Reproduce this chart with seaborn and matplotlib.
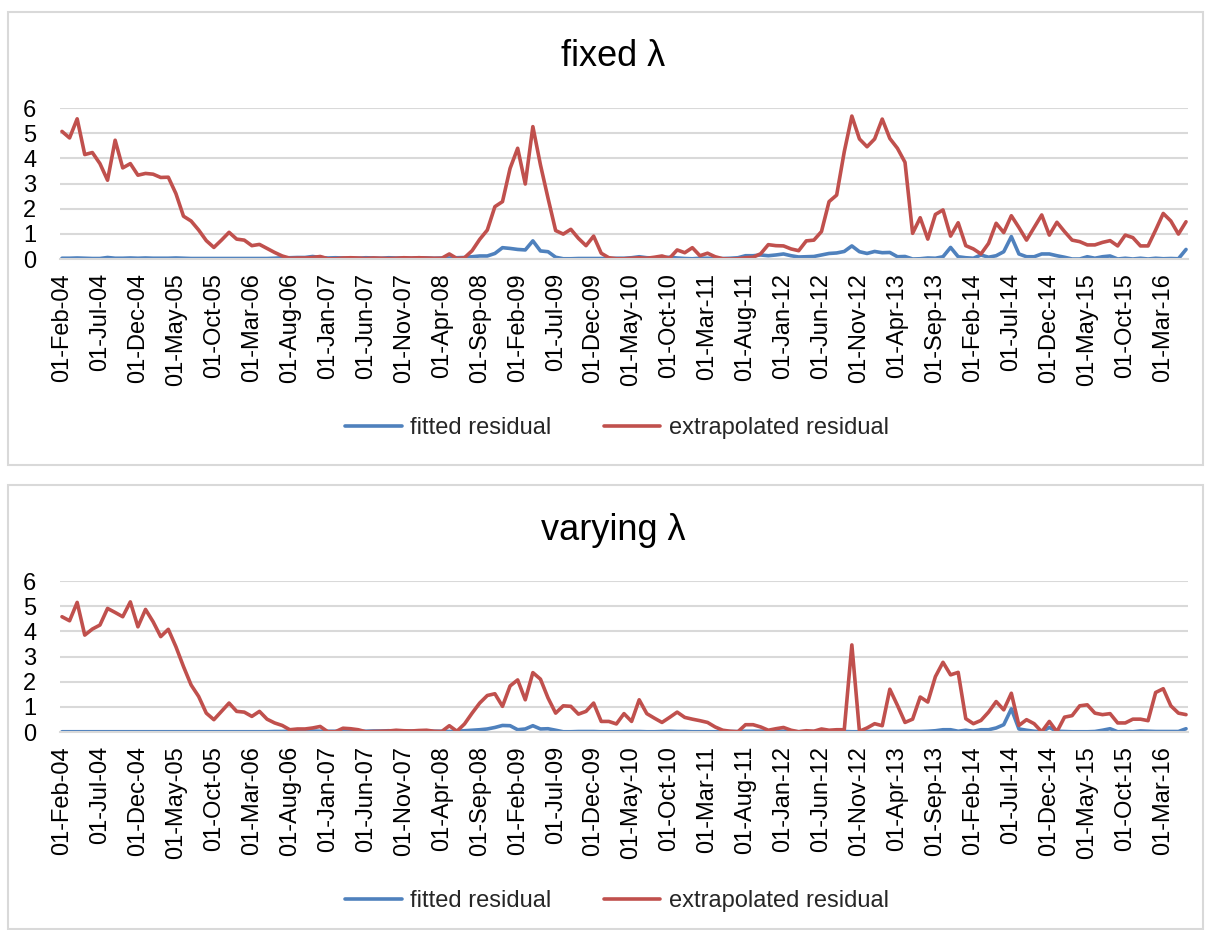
import numpy as np
import pandas as pd
import matplotlib
matplotlib.use("Agg")
import matplotlib.pyplot as plt
import seaborn as sns
from matplotlib.patches import Rectangle
from matplotlib.lines import Line2D

# Monthly observations, Feb-2004 .. Jun-2016
months = pd.date_range("2004-02-01", periods=149, freq="MS")

tick_labels = [
    "01-Feb-04", "01-Jul-04", "01-Dec-04", "01-May-05", "01-Oct-05", "01-Mar-06",
    "01-Aug-06", "01-Jan-07", "01-Jun-07", "01-Nov-07", "01-Apr-08", "01-Sep-08",
    "01-Feb-09", "01-Jul-09", "01-Dec-09", "01-May-10", "01-Oct-10", "01-Mar-11",
    "01-Aug-11", "01-Jan-12", "01-Jun-12", "01-Nov-12", "01-Apr-13", "01-Sep-13",
    "01-Feb-14", "01-Jul-14", "01-Dec-14", "01-May-15", "01-Oct-15", "01-Mar-16",
]

series_names = ["fitted residual", "extrapolated residual"]

# fixed lambda
fixed_fitted = [
    0.03, 0.03, 0.04, 0.03, 0.02, 0.02, 0.06, 0.03, 0.03, 0.04,
    0.03, 0.04, 0.03, 0.03, 0.03, 0.04, 0.03, 0.02, 0.02, 0.02,
    0.02, 0.02, 0.02, 0.02, 0.02, 0.02, 0.02, 0.02, 0.03, 0.05,
    0.05, 0.06, 0.06, 0.10, 0.06, 0.04, 0.05, 0.04, 0.03, 0.03,
    0.05, 0.04, 0.03, 0.05, 0.04, 0.04, 0.03, 0.05, 0.04, 0.03,
    0.04, 0.04, 0.05, 0.06, 0.09, 0.12, 0.12, 0.22, 0.45, 0.42,
    0.38, 0.36, 0.72, 0.32, 0.29, 0.07, 0.01, 0.01, 0.02, 0.02,
    0.02, 0.02, 0.02, 0.03, 0.03, 0.05, 0.09, 0.05, 0.04, 0.05,
    0.07, 0.04, 0.02, 0.01, 0.03, 0.03, 0.02, 0.02, 0.03, 0.05,
    0.13, 0.13, 0.16, 0.13, 0.16, 0.20, 0.13, 0.08, 0.09, 0.10,
    0.16, 0.22, 0.24, 0.30, 0.52, 0.29, 0.22, 0.30, 0.25, 0.26,
    0.09, 0.10, 0.00, 0.01, 0.04, 0.03, 0.09, 0.46, 0.09, 0.05,
    0.03, 0.16, 0.07, 0.13, 0.29, 0.89, 0.20, 0.09, 0.09, 0.20,
    0.20, 0.13, 0.07, 0.00, 0.00, 0.09, 0.03, 0.09, 0.12, 0.00,
    0.03, 0.00, 0.03, 0.00, 0.03, 0.01, 0.02, 0.01, 0.38,
]
fixed_extrap = [
    5.07, 4.81, 5.57, 4.15, 4.23, 3.79, 3.13, 4.72, 3.62, 3.79,
    3.33, 3.40, 3.37, 3.24, 3.25, 2.60, 1.70, 1.51, 1.15, 0.73,
    0.46, 0.75, 1.06, 0.79, 0.75, 0.53, 0.58, 0.42, 0.26, 0.12,
    0.03, 0.04, 0.04, 0.06, 0.10, 0.01, 0.01, 0.04, 0.05, 0.04,
    0.02, 0.04, 0.03, 0.02, 0.03, 0.05, 0.04, 0.05, 0.04, 0.03,
    0.03, 0.20, 0.02, 0.05, 0.33, 0.78, 1.15, 2.08, 2.28, 3.60,
    4.40, 2.98, 5.26, 3.74, 2.41, 1.13, 0.99, 1.18, 0.82, 0.53,
    0.91, 0.23, 0.05, 0.01, 0.01, 0.03, 0.05, 0.03, 0.07, 0.12,
    0.03, 0.36, 0.25, 0.45, 0.13, 0.23, 0.09, 0.01, 0.00, 0.01,
    0.05, 0.07, 0.21, 0.57, 0.53, 0.52, 0.40, 0.33, 0.72, 0.75,
    1.09, 2.28, 2.54, 4.26, 5.68, 4.77, 4.46, 4.77, 5.56, 4.79,
    4.40, 3.84, 1.02, 1.64, 0.79, 1.77, 1.95, 0.91, 1.44, 0.53,
    0.40, 0.20, 0.62, 1.42, 1.05, 1.72, 1.25, 0.75, 1.25, 1.75,
    0.95, 1.46, 1.09, 0.75, 0.69, 0.56, 0.56, 0.66, 0.73, 0.52,
    0.95, 0.85, 0.52, 0.52, 1.15, 1.81, 1.51, 0.99, 1.48,
]

# varying lambda
vary_fitted = [
    0.01, 0.01, 0.01, 0.01, 0.01, 0.01, 0.01, 0.01, 0.01, 0.01,
    0.01, 0.01, 0.01, 0.01, 0.01, 0.01, 0.01, 0.01, 0.01, 0.01,
    0.01, 0.01, 0.01, 0.01, 0.01, 0.01, 0.01, 0.01, 0.02, 0.02,
    0.03, 0.03, 0.03, 0.04, 0.03, 0.03, 0.03, 0.04, 0.04, 0.03,
    0.03, 0.04, 0.04, 0.05, 0.04, 0.03, 0.04, 0.03, 0.04, 0.03,
    0.03, 0.02, 0.03, 0.05, 0.07, 0.09, 0.12, 0.18, 0.26, 0.25,
    0.09, 0.12, 0.25, 0.12, 0.13, 0.07, 0.01, 0.01, 0.02, 0.02,
    0.02, 0.01, 0.01, 0.01, 0.02, 0.02, 0.02, 0.01, 0.01, 0.02,
    0.03, 0.02, 0.02, 0.01, 0.01, 0.01, 0.01, 0.02, 0.02, 0.02,
    0.03, 0.03, 0.03, 0.02, 0.02, 0.03, 0.02, 0.01, 0.02, 0.02,
    0.03, 0.03, 0.02, 0.02, 0.01, 0.01, 0.02, 0.02, 0.02, 0.02,
    0.02, 0.02, 0.02, 0.02, 0.03, 0.05, 0.09, 0.09, 0.03, 0.07,
    0.03, 0.09, 0.09, 0.16, 0.29, 0.92, 0.12, 0.07, 0.03, 0.01,
    0.18, 0.03, 0.02, 0.01, 0.01, 0.01, 0.02, 0.07, 0.13, 0.01,
    0.02, 0.01, 0.04, 0.03, 0.02, 0.02, 0.02, 0.02, 0.13,
]
vary_extrap = [
    4.58, 4.42, 5.15, 3.85, 4.09, 4.25, 4.91, 4.75, 4.58, 5.17,
    4.18, 4.87, 4.38, 3.79, 4.08, 3.39, 2.60, 1.87, 1.41, 0.75,
    0.49, 0.82, 1.15, 0.82, 0.79, 0.62, 0.82, 0.51, 0.36, 0.26,
    0.09, 0.12, 0.12, 0.16, 0.22, 0.01, 0.01, 0.15, 0.13, 0.09,
    0.01, 0.02, 0.03, 0.04, 0.07, 0.05, 0.04, 0.06, 0.07, 0.03,
    0.02, 0.25, 0.03, 0.32, 0.75, 1.15, 1.45, 1.52, 1.02, 1.83,
    2.07, 1.28, 2.36, 2.10, 1.35, 0.75, 1.04, 1.02, 0.71, 0.82,
    1.15, 0.42, 0.42, 0.32, 0.73, 0.42, 1.28, 0.73, 0.55, 0.38,
    0.58, 0.79, 0.58, 0.51, 0.45, 0.38, 0.20, 0.07, 0.03, 0.01,
    0.29, 0.29, 0.20, 0.07, 0.13, 0.18, 0.07, 0.01, 0.05, 0.03,
    0.12, 0.07, 0.09, 0.09, 3.46, 0.03, 0.16, 0.33, 0.25, 1.70,
    1.06, 0.38, 0.51, 1.39, 1.19, 2.20, 2.77, 2.27, 2.37, 0.53,
    0.33, 0.46, 0.79, 1.21, 0.88, 1.54, 0.26, 0.49, 0.33, 0.01,
    0.42, 0.01, 0.59, 0.65, 1.04, 1.08, 0.75, 0.69, 0.73, 0.36,
    0.36, 0.51, 0.51, 0.45, 1.57, 1.72, 1.04, 0.75, 0.69,
]

BLUE = "#4F81BD"
RED = "#C0504D"
GRID = "#D9D9D9"

sns.set_theme(style="white")
plt.rcParams["font.family"] = ["Liberation Sans", "DejaVu Sans"]

W, H = 1205, 930
fig = plt.figure(figsize=(W / 100, H / 100), dpi=100)
fig.patch.set_facecolor("white")


def px_rect(left, top, right, bottom):
    return [left / W, 1 - bottom / H, (right - left) / W, (bottom - top) / H]


def draw_panel(box, plot_area, title, title_y, legend_y, fitted, extrap):
    x0, y0, x1, y1 = box
    fig.patches.append(Rectangle((x0 / W, 1 - y1 / H), (x1 - x0) / W, (y1 - y0) / H,
                                 transform=fig.transFigure, fill=False,
                                 edgecolor=GRID, linewidth=1.5))
    ax = fig.add_axes(px_rect(*plot_area))
    n = len(months)
    df = pd.DataFrame({
        "month": np.concatenate([np.arange(n), np.arange(n)]),
        "value": np.array(fitted + extrap),
        "series": [series_names[0]] * n + [series_names[1]] * n,
    })
    sns.lineplot(data=df, x="month", y="value", hue="series",
                 hue_order=series_names, palette=[BLUE, RED],
                 linewidth=2.6, ax=ax, legend=False, sort=False)
    ax.set_xlim(-0.26, n - 1 + 0.26)
    ax.set_ylim(0, 6)
    ax.set_yticks(range(0, 7))
    ax.set_yticklabels([str(v) for v in range(0, 7)], fontsize=17)
    ax.set_xticks(range(0, n, 5))
    ax.set_xticklabels(tick_labels, rotation=90, fontsize=17)
    ax.tick_params(axis="x", length=0, pad=10, colors="black")
    ax.tick_params(axis="y", length=0, pad=17, colors="black")
    ax.yaxis.grid(True, color=GRID, linewidth=1.5)
    ax.set_axisbelow(True)
    for s in ["top", "right", "left"]:
        ax.spines[s].set_visible(False)
    ax.spines["bottom"].set_color(GRID)
    ax.spines["bottom"].set_linewidth(1.5)
    ax.set_xlabel("")
    ax.set_ylabel("")
    ax.set_facecolor("none")

    fig.text(613 / W, 1 - title_y / H, title, ha="center", va="center",
             fontsize=26, color="black")

    handles = [Line2D([], [], color=BLUE, lw=2.6), Line2D([], [], color=RED, lw=2.6)]
    fig.legend(handles, series_names, loc="center",
               bbox_to_anchor=(617 / W, 1 - legend_y / H), ncol=2, frameon=False,
               fontsize=17, handlelength=2.4, handletextpad=0.35,
               columnspacing=2.2)
    return ax


draw_panel((8, 12, 1203, 465), (60, 108, 1188, 259), "fixed λ", 57, 428,
           fixed_fitted, fixed_extrap)
draw_panel((8, 485, 1203, 929), (60, 581, 1188, 732), "varying λ", 530, 901,
           vary_fitted, vary_extrap)

fig.savefig("out.png", dpi=100, facecolor="white")
